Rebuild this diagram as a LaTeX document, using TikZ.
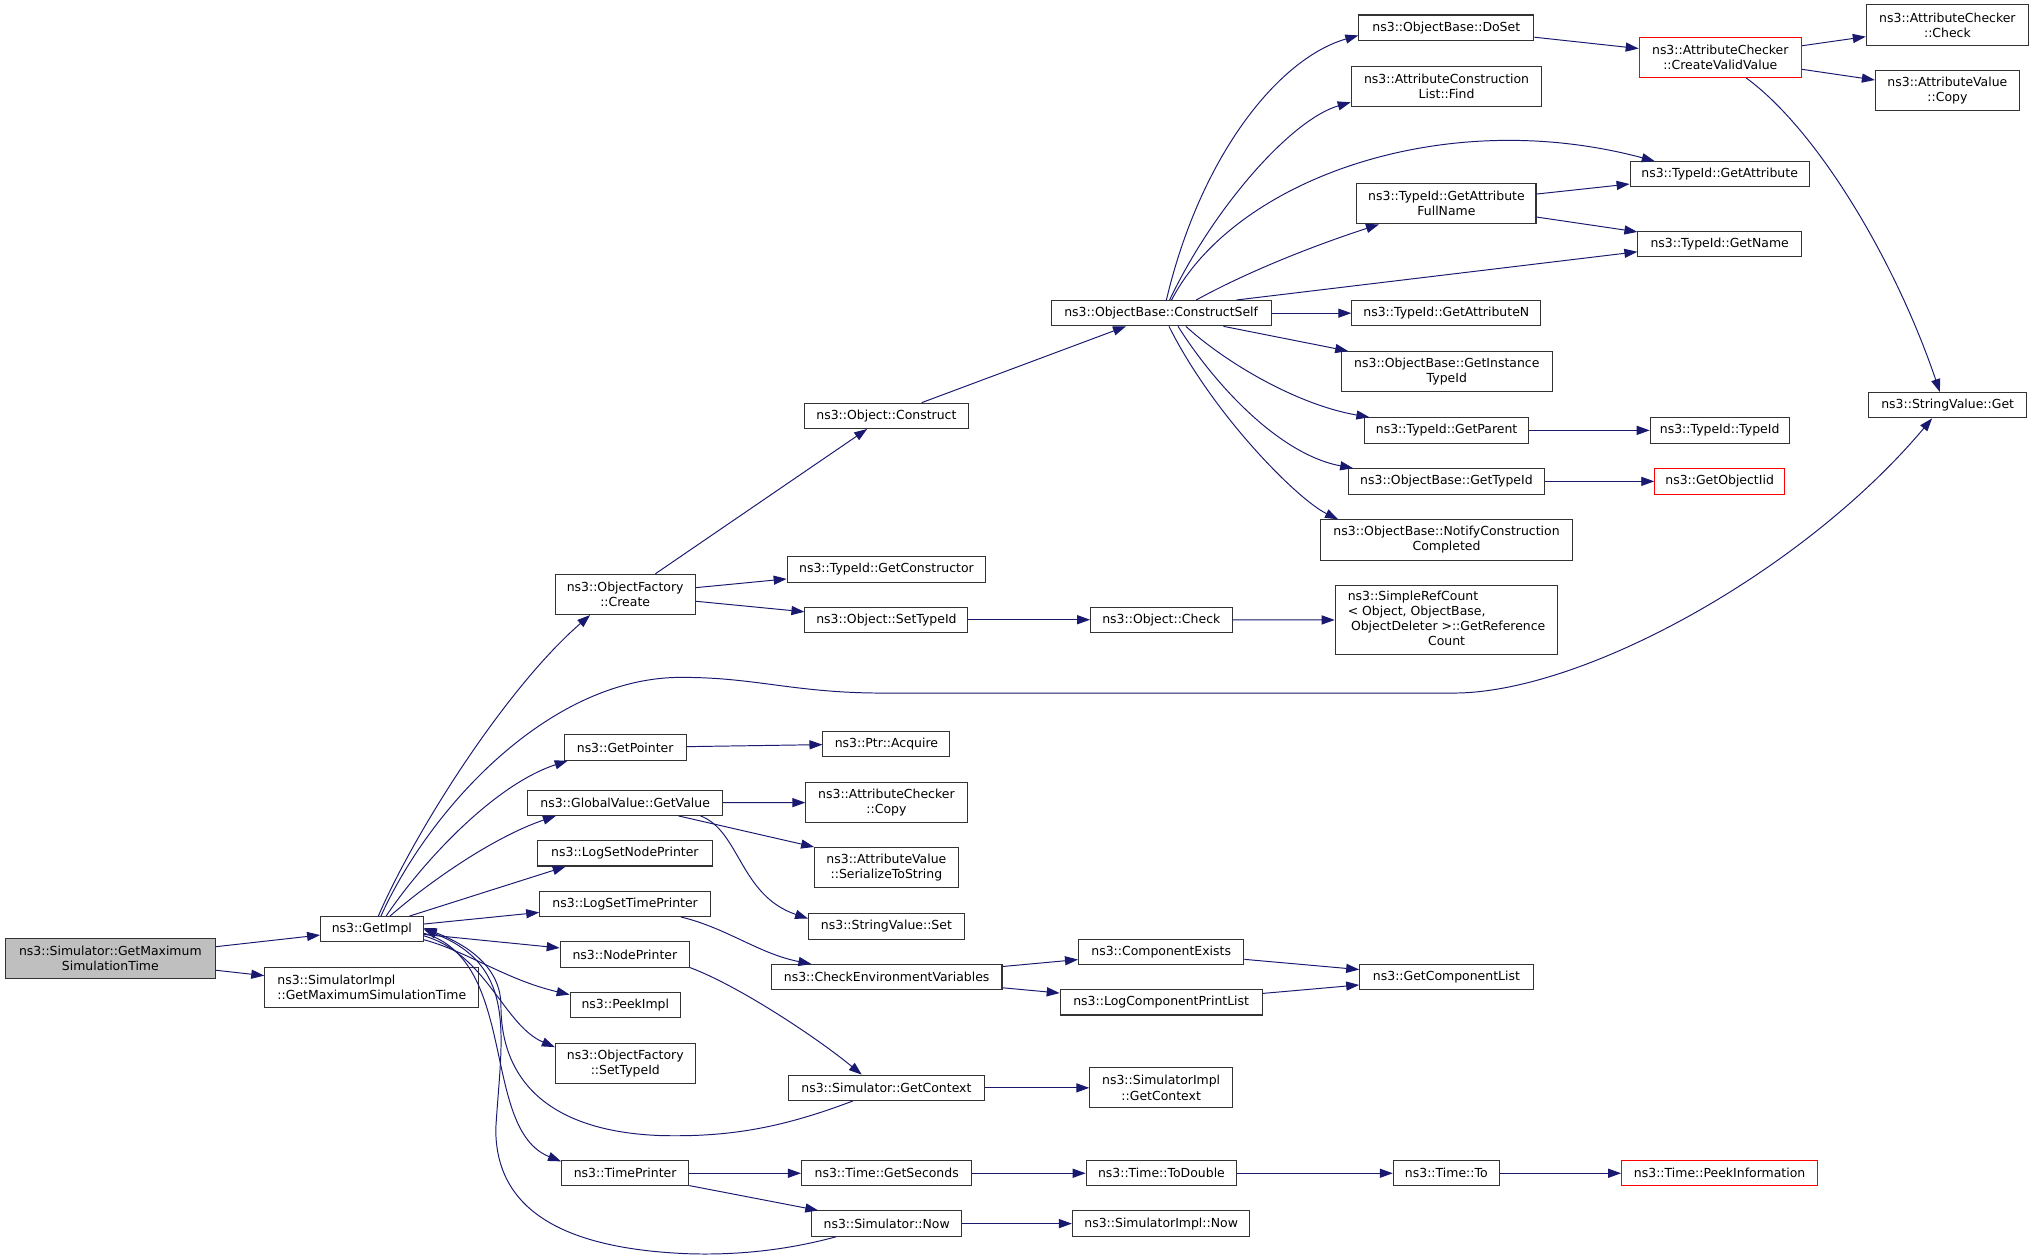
\documentclass[tikz,border=0pt]{standalone}
\usepackage{fontspec}
\setmainfont{DejaVu Sans}
\usepackage{tikz}
\usetikzlibrary{arrows.meta}
\definecolor{edgeblue}{RGB}{25,25,112}
\definecolor{nodegray}{RGB}{191,191,191}
\newcommand{\fnfont}{\fontsize{9.6}{11.6}\selectfont}

\begin{document}
\begin{tikzpicture}[x=1pt,y=-1pt,
    fn/.style={draw=black!80,line width=0.8pt,inner sep=2pt,minimum height=19.5pt,font=\fnfont,align=center},
    fntwo/.style={fn,minimum height=31pt},
    redfn/.style={draw=red},
    call/.style={draw=edgeblue,line width=0.75pt,-{Triangle[length=10pt,width=7pt]}}]
  \path[fill=white,use as bounding box] (0,0) rectangle (1568,970);
  % nodes
  \node[fntwo,fill=nodegray,minimum width=162pt] (gmst) at (85,738.5) {ns3::Simulator::GetMaximum\\SimulationTime};
  \node[fn,minimum width=79pt] (impl) at (286.5,716) {ns3::GetImpl};
  \node[fntwo,align=left,minimum width=165pt] (simgmst) at (286.5,761) {ns3::SimulatorImpl\\::GetMaximumSimulationTime};
  \node[fntwo,minimum width=108pt] (create) at (481.7,458) {ns3::ObjectFactory\\::Create};
  \node[fn,minimum width=153pt] (getctor) at (683,438.7) {ns3::TypeId::GetConstructor};
  \node[fn,minimum width=125.6pt] (setid) at (683,477.5) {ns3::Object::SetTypeId};
  \node[fn,minimum width=109pt] (objcheck) at (894.8,477.5) {ns3::Object::Check};
  \node[fn,minimum width=171.6pt,minimum height=53.7pt] (refcount) at (1114.6,477.8)
    {\begin{tabular}{@{}l@{}}ns3::SimpleRefCount\\\textless{} Object, ObjectBase,\\\hspace*{2.5pt}ObjectDeleter \textgreater::GetReference\\\multicolumn{1}{@{}c@{}}{Count}\end{tabular}};
  \node[fn,minimum width=126.8pt] (construct) at (683,320.4) {ns3::Object::Construct};
  \node[fn,minimum width=169.3pt] (cself) at (894.7,241.3) {ns3::ObjectBase::ConstructSelf};
  \node[fn,minimum width=134.8pt] (doset) at (1114.4,21.3) {ns3::ObjectBase::DoSet};
  \node[fntwo,minimum width=147pt] (find) at (1114.6,66.8) {ns3::AttributeConstruction\\List::Find};
  \node[fntwo,minimum width=138pt] (fullname) at (1114.5,157) {ns3::TypeId::GetAttribute\\FullName};
  \node[fn,minimum width=138pt] (getattr) at (1325,134.3) {ns3::TypeId::GetAttribute};
  \node[fn,minimum width=126pt] (getname) at (1325,188) {ns3::TypeId::GetName};
  \node[fn,minimum width=145.7pt] (attrn) at (1114.4,241.3) {ns3::TypeId::GetAttributeN};
  \node[fntwo,minimum width=162.4pt] (instid) at (1114.8,286.4) {ns3::ObjectBase::GetInstance\\TypeId};
  \node[fn,minimum width=126.2pt] (getparent) at (1114.6,331.6) {ns3::TypeId::GetParent};
  \node[fn,minimum width=107pt] (tidtid) at (1325,331.6) {ns3::TypeId::TypeId};
  \node[fn,minimum width=151pt] (gettid) at (1114.5,370.9) {ns3::ObjectBase::GetTypeId};
  \node[fn,redfn,minimum width=100pt] (objiid) at (1325,370.9) {ns3::GetObjectIid};
  \node[fntwo,minimum width=194.4pt] (notify) at (1114.6,416) {ns3::ObjectBase::NotifyConstruction\\Completed};
  \node[fntwo,redfn,minimum width=125pt] (cvv) at (1325.5,44.2) {ns3::AttributeChecker\\::CreateValidValue};
  \node[fntwo,minimum width=125pt] (acheck) at (1500.5,19.3) {ns3::AttributeChecker\\::Check};
  \node[fntwo,minimum width=111pt] (avcopy) at (1500.5,69.8) {ns3::AttributeValue\\::Copy};
  \node[fn,minimum width=121.7pt] (svget) at (1500.7,312.2) {ns3::StringValue::Get};
  \node[fn,minimum width=93.8pt] (getptr) at (481.7,576) {ns3::GetPointer};
  \node[fn,minimum width=97.8pt] (acquire) at (683,573) {ns3::Ptr::Acquire};
  \node[fn,minimum width=150pt] (getval) at (481.7,618.5) {ns3::GlobalValue::GetValue};
  \node[fntwo,minimum width=124.2pt] (accopy) at (683,618.4) {ns3::AttributeChecker\\::Copy};
  \node[fntwo,minimum width=110.7pt] (serial) at (683,668.5) {ns3::AttributeValue\\::SerializeToString};
  \node[fn,minimum width=120pt] (svset) at (683,713.9) {ns3::StringValue::Set};
  \node[fn,minimum width=134.5pt] (lsnp) at (481.5,657.5) {ns3::LogSetNodePrinter};
  \node[fn,minimum width=131.7pt] (lstp) at (481.7,696.4) {ns3::LogSetTimePrinter};
  \node[fn,minimum width=99.7pt] (nodepr) at (481.5,735.4) {ns3::NodePrinter};
  \node[fn,minimum width=177.7pt] (checkenv) at (683.2,752.9) {ns3::CheckEnvironmentVariables};
  \node[fn,minimum width=127.4pt] (compex) at (894.7,733.5) {ns3::ComponentExists};
  \node[fn,minimum width=155.6pt] (lcpl) at (894.7,772.3) {ns3::LogComponentPrintList};
  \node[fn,minimum width=133.7pt] (gcl) at (1114.5,753) {ns3::GetComponentList};
  \node[fn,minimum width=85pt] (peek) at (481.8,774.5) {ns3::PeekImpl};
  \node[fntwo,minimum width=107.8pt] (ofset) at (481.8,819.7) {ns3::ObjectFactory\\::SetTypeId};
  \node[fn,minimum width=151.3pt] (simctx) at (683,838.2) {ns3::Simulator::GetContext};
  \node[fntwo,minimum width=110pt] (implctx) at (894.7,838.2) {ns3::SimulatorImpl\\::GetContext};
  \node[fn,minimum width=98pt] (timepr) at (481.7,904) {ns3::TimePrinter};
  \node[fn,minimum width=131.3pt] (secs) at (683.2,904) {ns3::Time::GetSeconds};
  \node[fn,minimum width=116pt] (todbl) at (894.9,904) {ns3::Time::ToDouble};
  \node[fn,minimum width=81.7pt] (timeto) at (1114.4,904) {ns3::Time::To};
  \node[fn,redfn,minimum width=151pt] (peekinfo) at (1325,904) {ns3::Time::PeekInformation};
  \node[fn,minimum width=115.6pt] (simnow) at (683.2,942.8) {ns3::Simulator::Now};
  \node[fn,minimum width=136.8pt] (implnow) at (894.7,942.8) {ns3::SimulatorImpl::Now};
  % calls
  \draw[call] (gmst) -- (impl);
  \draw[call] (gmst) -- (simgmst);
  \draw[call] ([xshift=5pt]impl.north) .. controls (320,640) and (390,530) .. ([xshift=-27pt]create.south);
  \draw[call] ([xshift=7pt]impl.north) .. controls (330,625) and (420,525) .. (520,522)
    .. controls (580,521) and (610,534) .. (680,534) -- (1120,534)
    .. controls (1220,534) and (1390,440) .. ([xshift=-12pt]svget.south);
  \draw[call] ([xshift=11pt]impl.north) .. controls (325,665) and (380,605) .. ([xshift=3pt]getptr.south west);
  \draw[call] ([xshift=14pt]impl.north) .. controls (330,680) and (380,645) .. ([xshift=22pt]getval.south west);
  \draw[call] ([xshift=29pt]impl.north) -- ([xshift=22pt]lsnp.south west);
  \draw[call] (impl) -- (lstp);
  \draw[call] (impl) -- (nodepr);
  \draw[call] ([yshift=-8pt]impl.east) .. controls (360,733) and (390,755) .. ([yshift=-2pt]peek.north west);
  \draw[call] ([yshift=-5pt]impl.east) .. controls (375,735) and (388,790) .. ([yshift=-3pt]ofset.north west);
  \draw[call] ([yshift=-3pt]impl.east) .. controls (400,740) and (370,870) .. ([yshift=-1pt]timepr.north west);
  \draw[call] ([xshift=-26pt]simctx.south) .. controls (600,870) and (560,876) .. (510,875)
    .. controls (420,872) and (386,830) .. (386,775)
    .. controls (386,745) and (360,728) .. ([yshift=1pt]impl.east);
  \draw[call] ([xshift=-39pt]simnow.south) .. controls (600,965) and (560,967) .. (530,966)
    .. controls (430,962) and (382,930) .. (382,870)
    .. controls (386,800) and (400,745) .. (impl.east);
  \draw[call] (create) -- (getctor);
  \draw[call] (create) -- (setid);
  \draw[call] (create) -- (construct);
  \draw[call] (construct) -- (cself);
  \draw[call] (setid) -- (objcheck);
  \draw[call] (objcheck) -- (refcount);
  \draw[call] ([xshift=4pt]cself.north) .. controls (925,120) and (985,45) .. ([yshift=-6pt]doset.west);
  \draw[call] ([xshift=6.5pt]cself.north) .. controls (935,160) and (995,92) .. ([yshift=-12pt]find.west);
  \draw[call] ([xshift=8pt]cself.north) .. controls (950,140) and (1110,80) .. ([xshift=-50pt]getattr.north);
  \draw[call] ([xshift=27pt]cself.north) .. controls (960,210) and (1010,190) .. ([xshift=-52pt]fullname.south);
  \draw[call] ([xshift=58pt]cself.north) -- ([yshift=-6pt]getname.west);
  \draw[call] (cself) -- (attrn);
  \draw[call] ([xshift=48pt]cself.south) -- ([xshift=-76pt]instid.north);
  \draw[call] ([xshift=19pt]cself.south) .. controls (945,280) and (1000,312) .. ([xshift=4pt]getparent.north west);
  \draw[call] ([xshift=13pt]cself.south) .. controls (935,295) and (985,350) .. ([xshift=4pt]gettid.north west);
  \draw[call] ([xshift=6pt]cself.south) .. controls (935,320) and (1000,385) .. ([xshift=14pt]notify.north west);
  \draw[call] (fullname) -- (getattr);
  \draw[call] (fullname) -- (getname);
  \draw[call] (doset) -- (cvv);
  \draw[call] (cvv) -- (acheck);
  \draw[call] (cvv) -- (avcopy);
  \draw[call] ([xshift=20pt]cvv.south) .. controls (1400,100) and (1460,200) .. ([xshift=-6pt]svget.north);
  \draw[call] (getparent) -- (tidtid);
  \draw[call] (gettid) -- (objiid);
  \draw[call] (getptr) -- (acquire);
  \draw[call] (getval) -- (accopy);
  \draw[call] ([xshift=41pt]getval.south) -- (serial.north west);
  \draw[call] ([xshift=58pt]getval.south) .. controls (570,640) and (570,690) .. ([yshift=-4pt]svset.north west);
  \draw[call] ([xshift=43pt]lstp.south) .. controls (560,715) and (585,735) .. ([xshift=-58pt]checkenv.north);
  \draw[call] (nodepr.south east) .. controls (570,760) and (630,800) .. ([xshift=-19pt]simctx.north);
  \draw[call] (checkenv) -- (compex);
  \draw[call] (checkenv) -- (lcpl);
  \draw[call] (compex) -- (gcl);
  \draw[call] (lcpl) -- (gcl);
  \draw[call] (simctx) -- (implctx);
  \draw[call] (timepr) -- (secs);
  \draw[call] (timepr) -- (simnow);
  \draw[call] (secs) -- (todbl);
  \draw[call] (todbl) -- (timeto);
  \draw[call] (timeto) -- (peekinfo);
  \draw[call] (simnow) -- (implnow);
\end{tikzpicture}
\end{document}
